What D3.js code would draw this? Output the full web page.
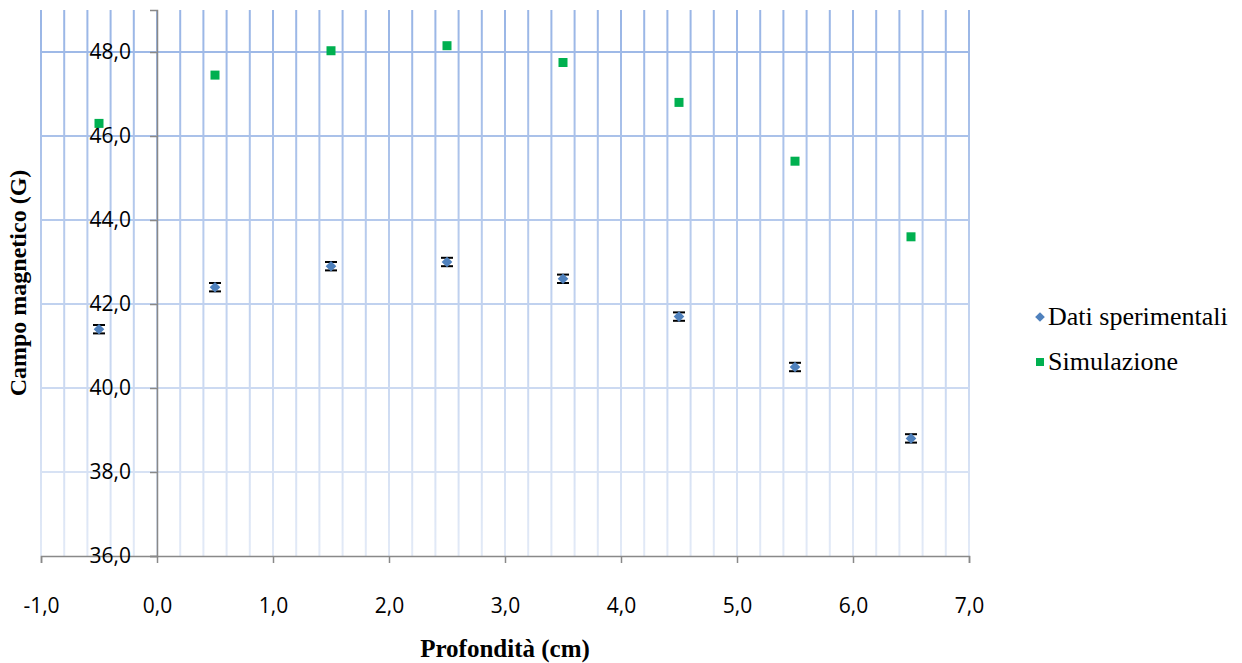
<!DOCTYPE html>
<meta charset="utf-8">
<script src="https://d3js.org/d3.v7.min.js"></script>
<style>
  body { margin: 0; background: #fff; }
</style>
<div id="chart"></div>
<script>
// data
var depths = [-0.5, 0.5, 1.5, 2.5, 3.5, 4.5, 5.5, 6.5];
var measured = [41.4, 42.4, 42.9, 43.0, 42.6, 41.7, 40.5, 38.8];
var measuredErr = [0.1, 0.1, 0.1, 0.1, 0.1, 0.1, 0.1, 0.1];
var simulated = [46.3, 47.45, 48.03, 48.15, 47.75, 46.8, 45.4, 43.6];
var xTicks = [-1, 0, 1, 2, 3, 4, 5, 6, 7];
var yTicks = [36, 38, 40, 42, 44, 46, 48];
var seriesNames = ["Dati sperimentali", "Simulazione"];

var W = 1242, H = 663;
var margin = {top: 10, right: 273, bottom: 107, left: 41};
var width = W - margin.left - margin.right,
    height = H - margin.top - margin.bottom;

var svg = d3.select("#chart").append("svg")
    .attr("width", W).attr("height", H);

// gradient for the grid lines (darker at top, fading to the bottom)
var defs = svg.append("defs");
var grad = defs.append("linearGradient")
    .attr("id", "gridGrad")
    .attr("gradientUnits", "userSpaceOnUse")
    .attr("x1", 0).attr("y1", margin.top)
    .attr("x2", 0).attr("y2", margin.top + height);
grad.append("stop").attr("offset", "0%").attr("stop-color", "#9ab6e6");
grad.append("stop").attr("offset", "100%").attr("stop-color", "#e4ebf7");

var g = svg.append("g")
    .attr("transform", "translate(" + margin.left + "," + margin.top + ")");

var x = d3.scaleLinear().domain([-1, 7]).range([0, width]);
var y = d3.scaleLinear().domain([36, 49]).range([height, 0]);

var fmt = function(d) { return d3.format(".1f")(d).replace(".", ",").replace("−", "-"); };

// minor vertical grid every 0.2
var vLines = d3.range(0, 41).map(function(i) { return -1 + i * 0.2; });
var gridG = g.append("g");
gridG.selectAll(".vgrid")
  .data(vLines)
  .enter().append("line")
    .attr("x1", d => x(d)).attr("x2", d => x(d))
    .attr("y1", 0).attr("y2", height)
    .attr("stroke", "url(#gridGrad)")
    .attr("stroke-width", 2);

// horizontal grid
gridG.selectAll(".hgrid")
  .data(yTicks.filter(d => d > 36))
  .enter().append("line")
    .attr("x1", 0).attr("x2", width)
    .attr("y1", d => y(d)).attr("y2", d => y(d))
    .attr("stroke", "url(#gridGrad)")
    .attr("stroke-width", 2);

// X axis at the bottom
var xAxis = g.append("g")
    .attr("transform", "translate(0," + height + ")")
    .call(d3.axisBottom(x).tickValues(xTicks).tickFormat(fmt).tickSizeOuter(0).tickSize(7).tickPadding(35));
xAxis.select(".domain").attr("stroke", "#898989").attr("stroke-width", 1.5);
xAxis.selectAll(".tick line").attr("stroke", "#898989").attr("stroke-width", 1.5);
xAxis.selectAll("text")
    .style("font-family", "'Open Sans', sans-serif")
    .style("font-size", "21px")
    .attr("fill", "#000");

// Y axis crossing at x = 0
var yAxis = g.append("g")
    .attr("transform", "translate(" + x(0) + ",0)")
    .call(d3.axisLeft(y).tickValues(yTicks).tickFormat(fmt).tickSizeOuter(0).tickSize(7).tickPadding(19));
yAxis.select(".domain").attr("stroke", "#898989").attr("stroke-width", 1.5);
yAxis.selectAll(".tick line").attr("stroke", "#898989").attr("stroke-width", 1.5);
yAxis.selectAll("text")
    .style("font-family", "'Open Sans', sans-serif")
    .style("font-size", "21px")
    .attr("fill", "#000");

// error bars
var errG = g.append("g");
depths.forEach(function(d, i) {
  var cx = x(d), lo = y(measured[i] - measuredErr[i]), hi = y(measured[i] + measuredErr[i]);
  errG.append("line").attr("x1", cx).attr("x2", cx).attr("y1", lo).attr("y2", hi)
      .attr("stroke", "#000").attr("stroke-width", 1.5);
  [lo, hi].forEach(function(yy) {
    errG.append("line").attr("x1", cx - 6).attr("x2", cx + 6).attr("y1", yy).attr("y2", yy)
        .attr("stroke", "#000").attr("stroke-width", 2);
  });
});

// measured points (diamonds)
g.selectAll(".meas")
  .data(depths)
  .enter().append("path")
    .attr("d", d3.symbol().type(d3.symbolDiamond2).size(72))
    .attr("transform", (d, i) => "translate(" + x(d) + "," + y(measured[i]) + ")")
    .attr("fill", "#4f81bd");

// simulation points (squares)
g.selectAll(".sim")
  .data(depths)
  .enter().append("rect")
    .attr("x", d => x(d) - 4.5)
    .attr("y", (d, i) => y(simulated[i]) - 4.5)
    .attr("width", 9).attr("height", 9)
    .attr("fill", "#00b050");

// axis titles
svg.append("text")
    .attr("x", margin.left + width / 2)
    .attr("y", 657)
    .attr("text-anchor", "middle")
    .style("font-family", "'Liberation Serif', 'Times New Roman', serif")
    .style("font-size", "25px")
    .style("font-weight", "bold")
    .text("Profondità (cm)");

svg.append("text")
    .attr("transform", "translate(26," + (margin.top + height / 2) + ") rotate(-90)")
    .attr("text-anchor", "middle")
    .style("font-family", "'Liberation Serif', 'Times New Roman', serif")
    .style("font-size", "24px")
    .style("font-weight", "bold")
    .text("Campo magnetico (G)");

// legend
var legend = svg.append("g").attr("transform", "translate(1040,317)");
legend.append("path")
    .attr("d", d3.symbol().type(d3.symbolDiamond2).size(60))
    .attr("fill", "#4f81bd");
legend.append("rect")
    .attr("x", -4).attr("y", 41).attr("width", 8).attr("height", 8)
    .attr("fill", "#00b050");
legend.selectAll("text")
  .data(seriesNames)
  .enter().append("text")
    .attr("x", 8)
    .attr("y", (d, i) => i * 45 + 8)
    .style("font-family", "'Liberation Serif', 'Times New Roman', serif")
    .style("font-size", "26px")
    .text(d => d);
</script>
